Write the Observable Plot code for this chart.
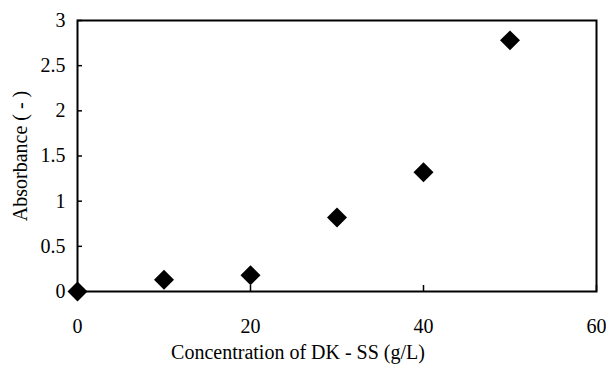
<!DOCTYPE html>
<html>
<head>
<meta charset="utf-8">
<script src="https://cdn.jsdelivr.net/npm/d3@7"></script>
<script src="https://cdn.jsdelivr.net/npm/@observablehq/plot@0.6"></script>
<style>
  html, body { margin: 0; padding: 0; background: white; }
</style>
</head>
<body>
<div id="chart"></div>
<script>
const concentration = [0, 10, 20, 30, 40, 50];
const absorbance = [0, 0.13, 0.18, 0.82, 1.32, 2.78];
const xTicks = [0, 20, 40, 60];
const yTicks = [0, 0.5, 1, 1.5, 2, 2.5, 3];
const xLabel = "Concentration of DK - SS (g/L)";
const yLabel = "Absorbance ( - )";

const data = concentration.map((c, i) => ({c, a: absorbance[i]}));

const chart = Plot.plot({
  width: 606,
  height: 372,
  marginLeft: 77,
  marginRight: 10,
  marginTop: 20,
  marginBottom: 81,
  style: {fontFamily: "'Liberation Serif', 'Times New Roman', serif", fontSize: "20px", background: "white", color: "black"},
  x: {domain: [0, 60]},
  y: {domain: [0, 3]},
  marks: [
    Plot.frame({stroke: "black", strokeWidth: 2}),
    Plot.axisX(xTicks, {tickSize: -6, tickFormat: () => "", label: null, strokeWidth: 1.5}),
    Plot.axisX(xTicks, {tickSize: 0, tickPadding: 27, label: null, tickFormat: d => String(d)}),
    Plot.axisY(yTicks, {tickSize: -5, tickFormat: () => "", label: null, strokeWidth: 1.5}),
    Plot.axisY(yTicks, {tickSize: 0, tickPadding: 12, label: yLabel, labelAnchor: "center", labelArrow: "none", labelOffset: 65, tickFormat: d => String(d)}),
    Plot.dot(data, {x: "c", y: "a", symbol: "diamond2", r: 9, fill: "black", stroke: "none"}),
    Plot.text([xLabel], {frameAnchor: "bottom", dy: 67, dx: -39, text: d => d, fill: "black"})
  ]
});
document.getElementById("chart").appendChild(chart);
</script>
</body>
</html>
